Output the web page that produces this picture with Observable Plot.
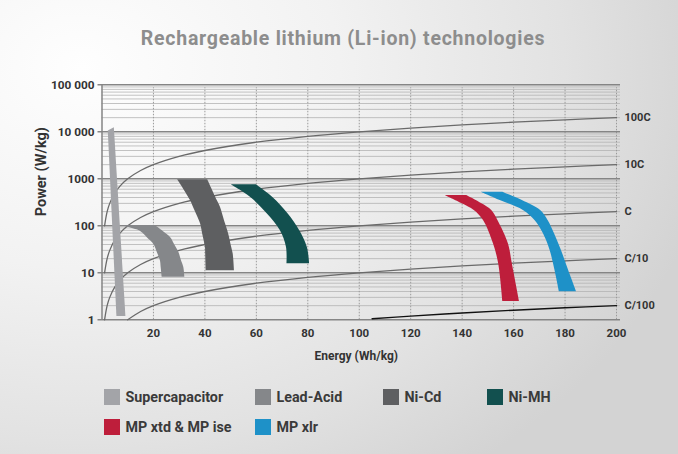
<!DOCTYPE html>
<html>
<head>
<meta charset="utf-8">
<script src="https://cdn.jsdelivr.net/npm/d3@7"></script>
<script src="https://cdn.jsdelivr.net/npm/@observablehq/plot@0.6"></script>
<style>
  html, body { margin: 0; padding: 0; }
  body { width: 678px; height: 454px; overflow: hidden; font-family: Roboto, "DejaVu Sans", sans-serif; }
  #card { position: relative; width: 678px; height: 454px;
    background: radial-gradient(ellipse 95% 110% at 12% 15%, #fefefe 0%, #f2f2f2 40%, #e2e2e2 75%, #d3d3d3 100%); }
  #title { position: absolute; top: 27px; left: 4px; width: 678px; text-align: center;
    font-size: 19.5px; font-weight: 700; color: #8d8d8d; letter-spacing: 0.75px; }
  #chart { position: absolute; top: 62px; left: 0; }
  .leg { position: absolute; font-size: 14.3px; font-weight: 700; color: #3a3a3a; line-height: 16px; white-space: nowrap; }
  .sw { position: absolute; width: 16px; height: 15.5px; }
</style>
</head>
<body>
<div id="card">
  <div id="title">Rechargeable lithium (Li-ion) technologies</div>
  <div id="chart"></div>
  <div id="legend"></div>
</div>
<script>
// ---- axis ticks ----
const xTicks = [20, 40, 60, 80, 100, 120, 140, 160, 180, 200];
const yTicks = [1, 10, 100, 1000, 10000, 100000];
const yTickLabels = ["1", "10", "100", "1000", "10 000", "100 000"];

// ---- C-rate reference lines (energy Wh/kg, power W/kg) ----
const rateLabels = ["100C", "10C", "C", "C/10", "C/100"];
const energy100C = [1, 2, 3, 5, 7, 10, 15, 20, 30, 40, 60, 80, 100, 120, 140, 160, 180, 200];
const power100C  = [100, 200, 300, 500, 700, 1000, 1500, 2000, 3000, 4000, 6000, 8000, 10000, 12000, 14000, 16000, 18000, 20000];
const energy10C  = [1, 2, 3, 5, 7, 10, 15, 20, 30, 40, 60, 80, 100, 120, 140, 160, 180, 200];
const power10C   = [10, 20, 30, 50, 70, 100, 150, 200, 300, 400, 600, 800, 1000, 1200, 1400, 1600, 1800, 2000];
const energy1C   = [1, 2, 3, 5, 7, 10, 15, 20, 30, 40, 60, 80, 100, 120, 140, 160, 180, 200];
const power1C    = [1, 2, 3, 5, 7, 10, 15, 20, 30, 40, 60, 80, 100, 120, 140, 160, 180, 200];
const energyC10  = [10, 15, 20, 30, 40, 60, 80, 100, 120, 140, 160, 180, 200];
const powerC10   = [1, 1.5, 2, 3, 4, 6, 8, 10, 12, 14, 16, 18, 20];
const energyC100 = [105, 120, 140, 160, 180, 200];
const powerC100  = [1.05, 1.2, 1.4, 1.6, 1.8, 2];

// ---- technologies ----
const techNames  = ["Supercapacitor", "Lead-Acid", "Ni-Cd", "Ni-MH", "MP xtd & MP ise", "MP xlr"];
const techColors = ["#a3a4a8", "#85878a", "#5e5f61", "#12504f", "#be1e3b", "#1e91c8"];

// Supercapacitor outline (energy, power)
const superEnergy = [2.25, 4.6, 9.1, 5.6];
const superPower  = [10700, 12500, 1.2, 1.2];

// Other bands: power levels with inner / outer energy edges
const leadPower = [100, 76, 56, 40, 27, 18, 13, 8];
const leadInner = [7.5, 15.0, 17.6, 20.2, 21.5, 22.7, 23.0, 23.4];
const leadOuter = [20.8, 23.8, 26.7, 28.2, 29.9, 30.9, 31.8, 32.2];

const nicdPower = [960, 345, 250, 110, 68, 35, 25, 11];
const nicdInner = [29.4, 34.4, 35.5, 38.3, 39.1, 40.2, 40.3, 40.5];
const nicdOuter = [41.1, 44.8, 46.0, 48.0, 49.2, 50.4, 51.0, 51.5];

const nimhPower = [745, 406, 180, 79, 35, 15.5];
const nimhInner = [50.2, 57.7, 64.2, 69.3, 71.7, 71.9];
const nimhOuter = [60.0, 66.3, 72.3, 76.8, 79.8, 80.7];

const xtdPower = [441, 294, 212, 130, 41, 15.5, 2.45];
const xtdInner = [133.4, 140.0, 144.7, 148.3, 152.2, 154.2, 155.8];
const xtdOuter = [141.8, 147.7, 151.5, 153.9, 158.0, 159.5, 162.3];

const xlrPower = [519, 345, 212, 130, 67.6, 29.8, 11.2, 3.95];
const xlrInner = [147.4, 154.8, 163.8, 168.3, 171.6, 174.2, 176.1, 177.8];
const xlrOuter = [155.8, 163.4, 170.5, 173.4, 175.9, 178.6, 181.4, 184.5];

// ---- build tables ----
const rateSeries = [
  [energy100C, power100C], [energy10C, power10C], [energy1C, power1C], [energyC10, powerC10], [energyC100, powerC100]
];
const rateRows = rateSeries.flatMap(([e, p], i) => e.map((v, j) => ({rate: rateLabels[i], e: v, p: p[j]})));
const grayRows = rateRows.filter(d => d.rate !== "C/100");
const blackRows = rateRows.filter(d => d.rate === "C/100");
const rateEnds = rateSeries.map(([e, p], i) => ({label: rateLabels[i], e: e[e.length - 1], p: p[p.length - 1]}));

const superRows = superEnergy.map((e, i) => ({e, p: superPower[i]}));
const band = (P, I, O) => P.map((p, i) => ({p, inner: I[i], outer: O[i]}));
const bands = [
  [band(leadPower, leadInner, leadOuter), techColors[1]],
  [band(nicdPower, nicdInner, nicdOuter), techColors[2]],
  [band(nimhPower, nimhInner, nimhOuter), techColors[3]],
  [band(xtdPower, xtdInner, xtdOuter), techColors[4]],
  [band(xlrPower, xlrInner, xlrOuter), techColors[5]]
];

const yMinor = yTicks.slice(0, -1).flatMap(t => [2, 3, 4, 5, 6, 7, 8, 9].map(k => t * k));

const font = "Roboto, 'DejaVu Sans', sans-serif";
const tickColor = "#333";

const chart = Plot.plot({
  width: 678,
  height: 300,
  marginLeft: 101.5,
  marginRight: 62,
  marginTop: 22.3,
  marginBottom: 42.7,
  x: {domain: [0, 200], axis: null},
  y: {type: "log", domain: [1, 100000], axis: null},
  style: {background: "transparent", fontFamily: font, overflow: "visible"},
  marks: [
    Plot.ruleY(yMinor, {x1: 0, x2: 200, insetRight: -4, stroke: "#b4b4b4", strokeWidth: 0.8}),
    Plot.ruleX(xTicks, {y1: 1, y2: 100000, insetBottom: -3, stroke: "#9a9a9a", strokeWidth: 1, strokeDasharray: "1.5,1.5"}),
    Plot.ruleY(yTicks, {x1: 0, x2: 200, insetLeft: -4, insetRight: -4, stroke: "#858585", strokeWidth: 1.5}),
    Plot.ruleX([0], {y1: 1, y2: 100000, stroke: "#858585", strokeWidth: 1.5}),
    Plot.line(grayRows, {x: "e", y: "p", z: "rate", stroke: "#6a6a6a", strokeWidth: 1.3, curve: "catmull-rom"}),
    Plot.line(blackRows, {x: "e", y: "p", stroke: "#111", strokeWidth: 1.4, curve: "catmull-rom"}),
    ...bands.map(([rows, color]) => Plot.areaX(rows, {y: "p", x1: "inner", x2: "outer", fill: color, curve: "catmull-rom"})),
    Plot.line(superRows, {x: "e", y: "p", fill: techColors[0], stroke: "none", curve: "linear-closed"}),
    Plot.text(yTicks, {x: 0, y: d => d, text: (d, i) => yTickLabels[i], textAnchor: "end", dx: -7.5,
      fontSize: 11.8, fontWeight: 700, fill: tickColor}),
    Plot.text(xTicks, {x: d => d, y: 1, dy: 14, text: d => String(d), fontSize: 11.5, fontWeight: 700, fill: tickColor}),
    Plot.text(rateEnds, {x: "e", y: "p", text: "label", textAnchor: "start", dx: 8, fontSize: 11, fontWeight: 700, fill: tickColor}),
    Plot.text(["Energy (Wh/kg)"], {x: 100, y: 1, dx: -3, dy: 36.5, text: d => d, fontSize: 12, fontWeight: 700, fill: tickColor}),
    Plot.text(["Power (W/kg)"], {frameAnchor: "left", dx: -60.5, dy: 14, rotate: -90, text: d => d, fontSize: 14.5, fontWeight: 700, fill: tickColor})
  ]
});
document.getElementById("chart").appendChild(chart);

// ---- legend ----
const legendPos = [[104, 389], [255, 389], [383, 389], [487, 389], [104, 419], [255, 419]];
const legend = document.getElementById("legend");
techNames.forEach((name, i) => {
  const [lx, ly] = legendPos[i];
  const sw = document.createElement("div");
  sw.className = "sw";
  sw.style.left = lx + "px"; sw.style.top = ly + "px"; sw.style.background = techColors[i];
  legend.appendChild(sw);
  const t = document.createElement("div");
  t.className = "leg";
  t.textContent = name;
  t.style.left = (lx + 21.5) + "px"; t.style.top = (ly) + "px";
  legend.appendChild(t);
});
</script>
</body>
</html>
